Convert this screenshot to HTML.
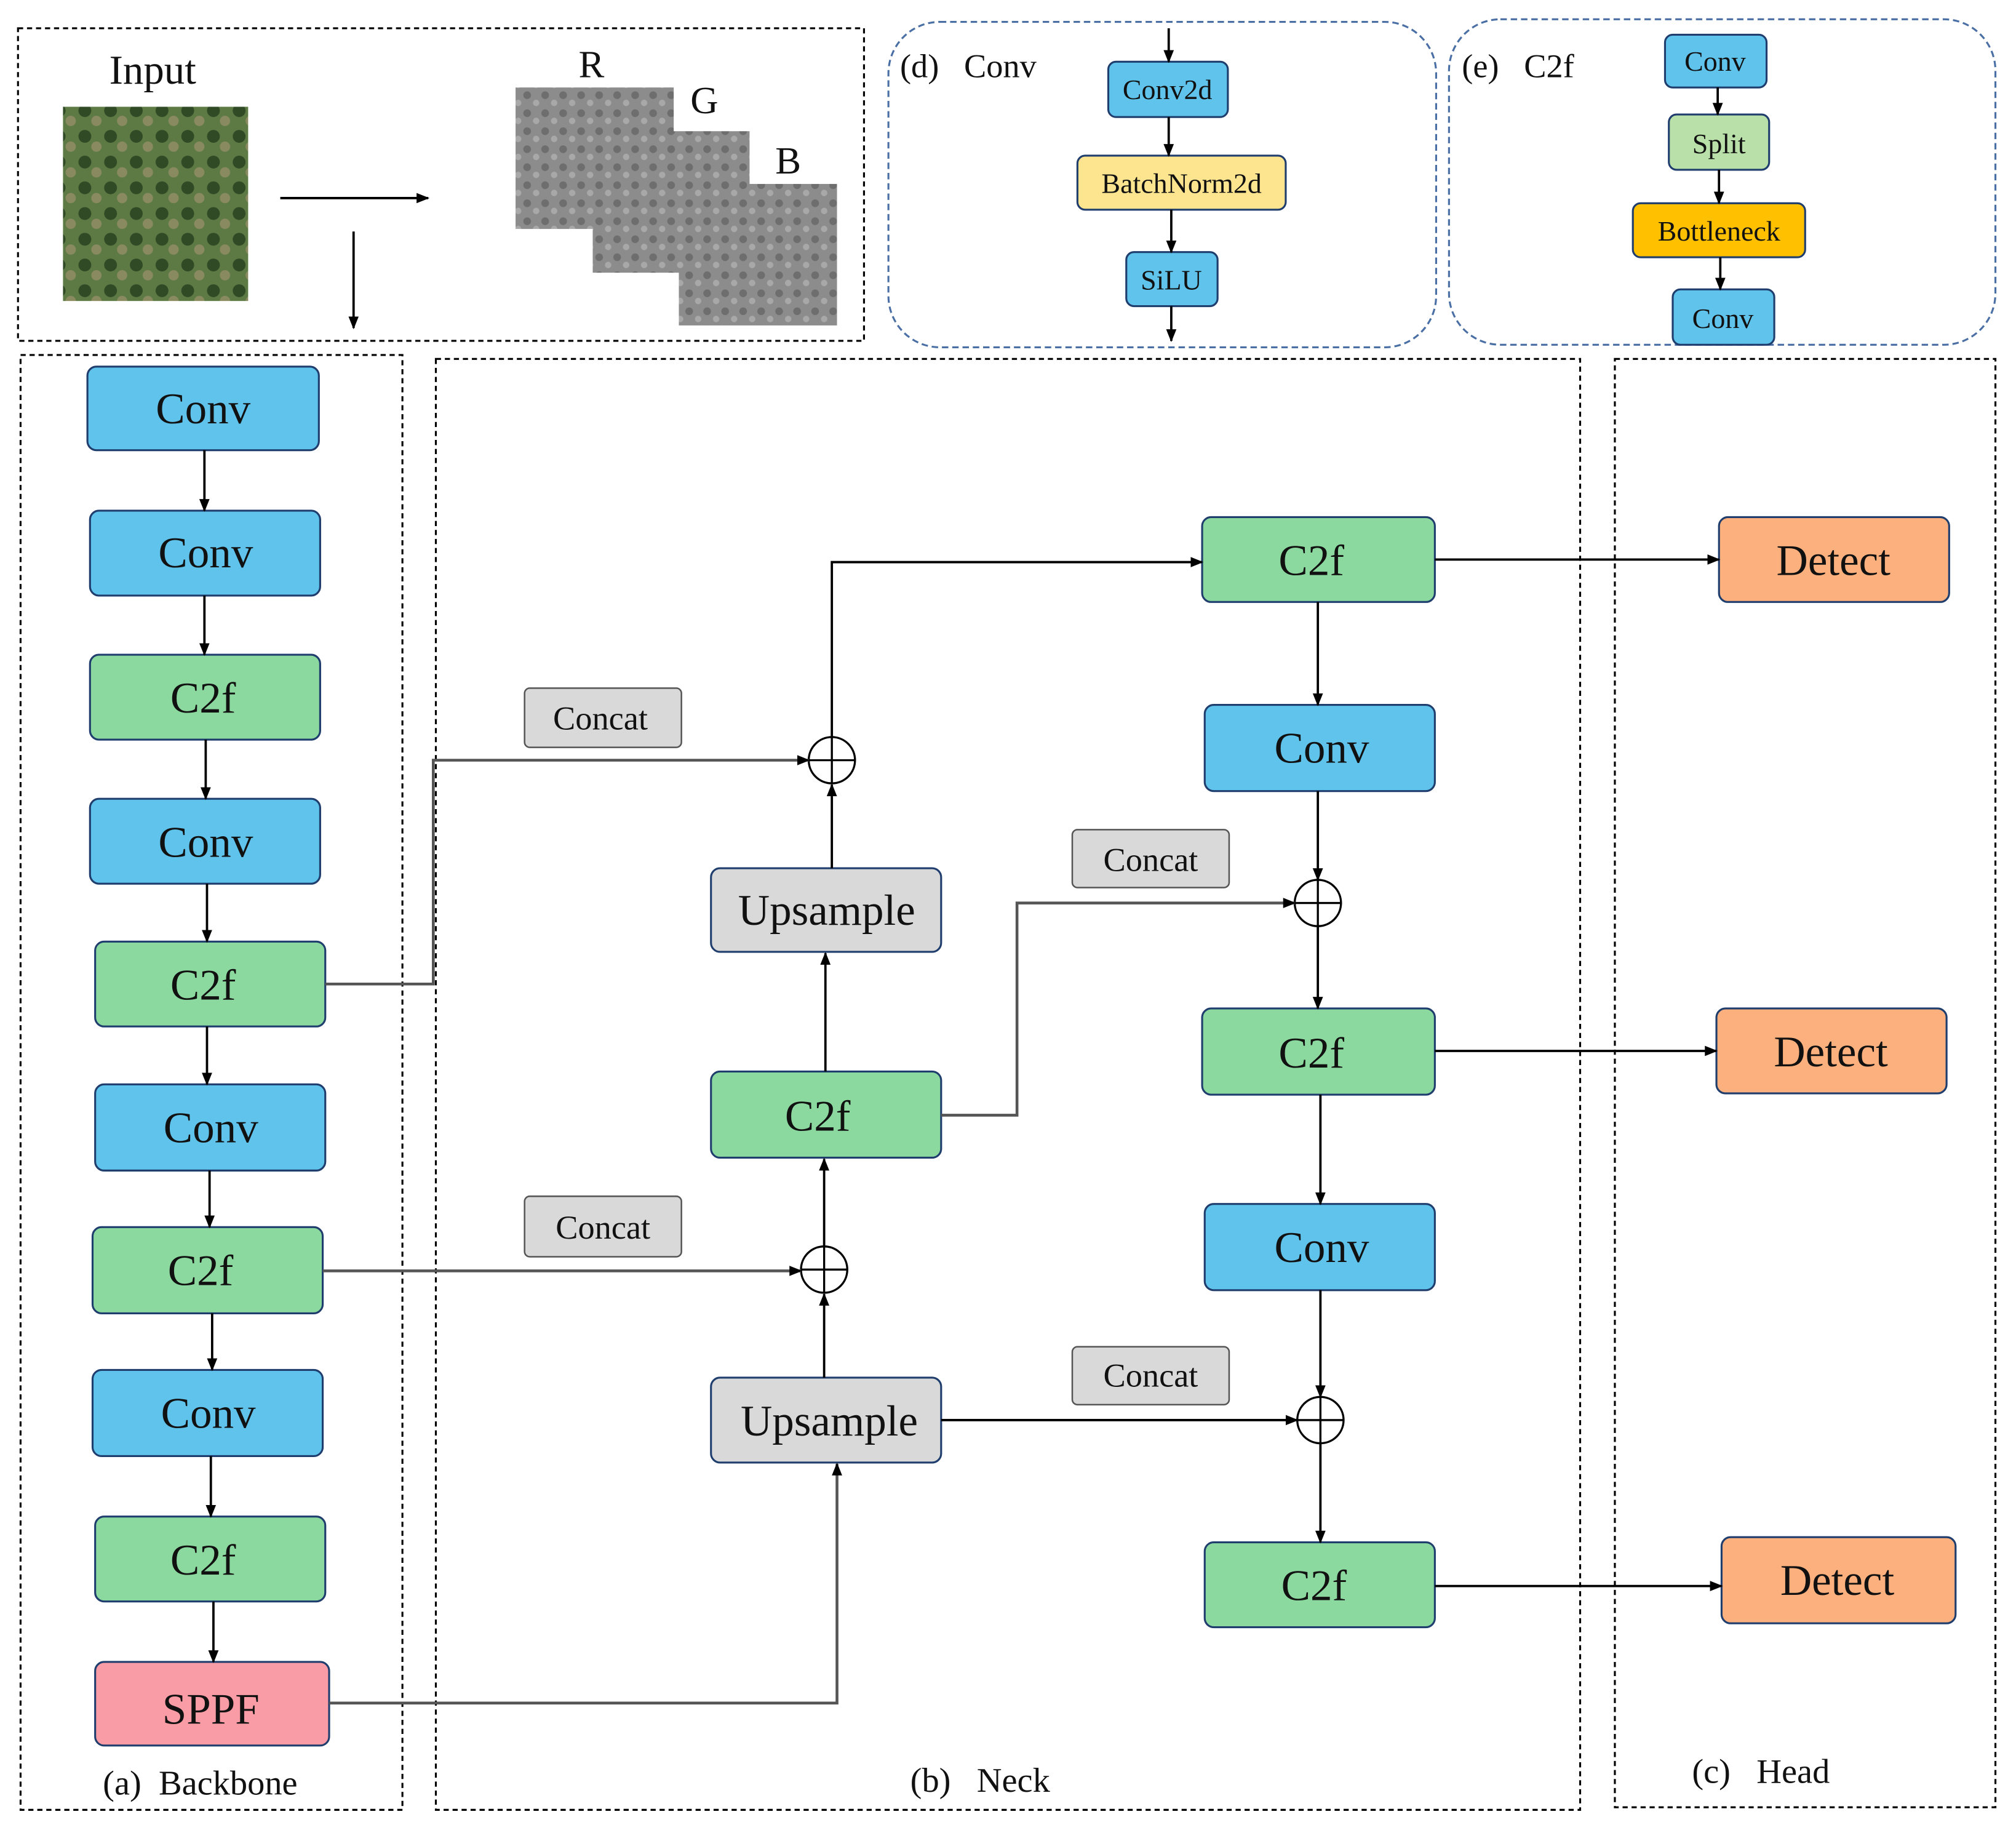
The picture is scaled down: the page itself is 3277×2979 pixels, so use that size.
<!DOCTYPE html>
<html><head><meta charset="utf-8"><style>
html,body{margin:0;padding:0;background:#fff}
svg{display:block}
text{font-family:"Liberation Serif",serif;fill:#111;white-space:pre}
</style></head><body>
<svg width="3277" height="2979" viewBox="0 0 1568 1425" preserveAspectRatio="none" xmlns="http://www.w3.org/2000/svg" xml:space="preserve">
<defs>
<marker id="a" markerWidth="10" markerHeight="10" refX="9" refY="5" orient="auto" markerUnits="userSpaceOnUse"><path d="M0,1 L10,5 L0,9 z" fill="#000"/></marker>
<pattern id="gn" width="14" height="14" patternUnits="userSpaceOnUse"><rect width="14" height="14" fill="#8c8c8c"/><circle cx="4" cy="4" r="3" fill="#6e6e6e"/><circle cx="11" cy="10" r="2.5" fill="#a8a8a8"/></pattern>
<pattern id="gr" width="20" height="20" patternUnits="userSpaceOnUse"><rect width="20" height="20" fill="#5d7a45"/><circle cx="6" cy="6" r="5" fill="#2f4a25"/><circle cx="15" cy="14" r="4" fill="#8a8a60"/></pattern>
</defs>
<g fill="none" stroke="#000" stroke-width="1.5" stroke-dasharray="4,3">
<rect x="14" y="22" width="658" height="243"/>
<rect x="16" y="276" width="297" height="1131"/>
<rect x="339" y="279" width="890" height="1128"/>
<rect x="1256" y="279" width="296" height="1126"/>
</g>
<g fill="none" stroke="#4a6fa5" stroke-width="1.5" stroke-dasharray="5,3">
<rect x="691" y="17" width="426" height="253" rx="40"/>
<rect x="1127" y="15" width="425" height="253" rx="40"/>
</g>
<text x="85" y="65" font-size="32">Input</text>
<rect x="49" y="83" width="144" height="151" fill="url(#gr)"/>
<rect x="401" y="68" width="123" height="110" fill="url(#gn)"/>
<rect x="461" y="102" width="122" height="110" fill="url(#gn)"/>
<rect x="528" y="143" width="123" height="110" fill="url(#gn)"/>
<text x="450" y="60" font-size="30">R</text>
<text x="537" y="88" font-size="30">G</text>
<text x="603" y="135" font-size="30">B</text>
<g stroke="#000" stroke-width="1.8" fill="none" marker-end="url(#a)">
<path d="M218,154 H333"/><path d="M275,180 V255"/>
</g>
<text x="700" y="60" font-size="26">(d)   Conv</text>
<text x="1137" y="60" font-size="26">(e)   C2f</text>
<g stroke="#1f3e6e" stroke-width="1.5">
<rect x="862" y="48" width="93" height="43" rx="6" fill="#5fc3ec"/>
<rect x="838" y="121" width="162" height="42" rx="6" fill="#fde58f"/>
<rect x="876" y="196" width="71" height="42" rx="6" fill="#5fc3ec"/>
<rect x="1295" y="27" width="79" height="41" rx="6" fill="#5fc3ec"/>
<rect x="1298" y="89" width="78" height="43" rx="6" fill="#b8e0a8"/>
<rect x="1270" y="158" width="134" height="42" rx="6" fill="#ffc000"/>
<rect x="1301" y="225" width="79" height="43" rx="6" fill="#5fc3ec"/>
</g>
<g font-size="22" text-anchor="middle">
<text x="908" y="77">Conv2d</text><text x="919" y="150">BatchNorm2d</text><text x="911" y="225">SiLU</text>
<text x="1334" y="55">Conv</text><text x="1337" y="119">Split</text><text x="1337" y="187">Bottleneck</text><text x="1340" y="255">Conv</text>
</g>
<g stroke="#000" stroke-width="1.8" fill="none" marker-end="url(#a)">
<path d="M909,22 V48"/><path d="M909,91 V121"/><path d="M911,163 V196"/><path d="M911,238 V265"/>
<path d="M1336,68 V89"/><path d="M1337,132 V158"/><path d="M1338,200 V225"/>
</g>
<g stroke="#1f3e6e" stroke-width="1.5">
<rect x="68" y="285" width="180" height="65" rx="7" fill="#5fc3ec"/>
<rect x="70" y="397" width="179" height="66" rx="7" fill="#5fc3ec"/>
<rect x="70" y="509" width="179" height="66" rx="7" fill="#8cd9a0"/>
<rect x="70" y="621" width="179" height="66" rx="7" fill="#5fc3ec"/>
<rect x="74" y="732" width="179" height="66" rx="7" fill="#8cd9a0"/>
<rect x="74" y="843" width="179" height="67" rx="7" fill="#5fc3ec"/>
<rect x="72" y="954" width="179" height="67" rx="7" fill="#8cd9a0"/>
<rect x="72" y="1065" width="179" height="67" rx="7" fill="#5fc3ec"/>
<rect x="74" y="1179" width="179" height="66" rx="7" fill="#8cd9a0"/>
<rect x="74" y="1292" width="182" height="65" rx="7" fill="#f99ca6"/>
<rect x="553" y="675" width="179" height="65" rx="7" fill="#d9d9d9"/>
<rect x="553" y="833" width="179" height="67" rx="7" fill="#8cd9a0"/>
<rect x="553" y="1071" width="179" height="66" rx="7" fill="#d9d9d9"/>
<rect x="935" y="402" width="181" height="66" rx="7" fill="#8cd9a0"/>
<rect x="937" y="548" width="179" height="67" rx="7" fill="#5fc3ec"/>
<rect x="935" y="784" width="181" height="67" rx="7" fill="#8cd9a0"/>
<rect x="937" y="936" width="179" height="67" rx="7" fill="#5fc3ec"/>
<rect x="937" y="1199" width="179" height="66" rx="7" fill="#8cd9a0"/>
<rect x="1337" y="402" width="179" height="66" rx="7" fill="#fbb07e"/>
<rect x="1335" y="784" width="179" height="66" rx="7" fill="#fbb07e"/>
<rect x="1339" y="1195" width="182" height="67" rx="7" fill="#fbb07e"/>
</g>
<g stroke="#555" stroke-width="1.2" fill="#d9d9d9">
<rect x="408" y="535" width="122" height="46" rx="4"/>
<rect x="408" y="930" width="122" height="47" rx="4"/>
<rect x="834" y="645" width="122" height="45" rx="4"/>
<rect x="834" y="1047" width="122" height="45" rx="4"/>
</g>
<g font-size="34" text-anchor="middle">
<text x="158" y="329">Conv</text><text x="160" y="441">Conv</text><text x="158" y="554">C2f</text><text x="160" y="666">Conv</text>
<text x="158" y="777">C2f</text><text x="164" y="888">Conv</text><text x="156" y="999">C2f</text><text x="162" y="1110">Conv</text>
<text x="158" y="1224">C2f</text><text x="164" y="1340">SPPF</text>
<text x="643" y="719">Upsample</text><text x="636" y="879">C2f</text><text x="645" y="1116">Upsample</text>
<text x="1020" y="447">C2f</text><text x="1028" y="593">Conv</text><text x="1020" y="830">C2f</text><text x="1028" y="981">Conv</text><text x="1022" y="1244">C2f</text>
<text x="1426" y="447">Detect</text><text x="1424" y="829">Detect</text><text x="1429" y="1240">Detect</text>
</g>
<g font-size="26" text-anchor="middle">
<text x="467" y="567">Concat</text><text x="469" y="963">Concat</text><text x="895" y="677">Concat</text><text x="895" y="1078">Concat</text>
</g>
<g font-size="27">
<text x="80" y="1395">(a)  Backbone</text><text x="708" y="1393">(b)   Neck</text><text x="1316" y="1386">(c)   Head</text>
</g>
<g stroke="#000" stroke-width="1.6" fill="#fff">
<circle cx="647" cy="591" r="18"/><circle cx="641" cy="987" r="18"/><circle cx="1025" cy="702" r="18"/><circle cx="1027" cy="1104" r="18"/>
</g>
<g stroke="#000" stroke-width="1.6">
<path d="M629,591 H665 M647,573 V609"/><path d="M623,987 H659 M641,969 V1005"/>
<path d="M1007,702 H1043 M1025,684 V720"/><path d="M1009,1104 H1045 M1027,1086 V1122"/>
</g>
<g stroke="#000" stroke-width="1.8" fill="none" marker-end="url(#a)">
<path d="M159,350 V397"/><path d="M159,463 V509"/><path d="M160,575 V621"/><path d="M161,687 V732"/>
<path d="M161,798 V843"/><path d="M163,910 V954"/><path d="M165,1021 V1065"/><path d="M164,1132 V1179"/><path d="M166,1245 V1292"/>
<path d="M647,675 V610"/><path d="M647,573 V437 H935"/>
<path d="M642,833 V741"/><path d="M641,969 V901"/><path d="M641,1071 V1006"/>
<path d="M732,1104 H1009"/>
<path d="M1025,468 V548"/><path d="M1025,615 V684"/><path d="M1025,720 V784"/>
<path d="M1027,851 V936"/><path d="M1027,1003 V1086"/><path d="M1027,1122 V1199"/>
<path d="M1116,435 H1337"/><path d="M1116,817 H1335"/><path d="M1116,1233 H1339"/>
</g>
<g stroke="#555" stroke-width="2.2" fill="none" marker-end="url(#a)">
<path d="M253,765 H337 V591 H629"/>
<path d="M732,867 H791 V702 H1007"/>
<path d="M251,988 H623"/>
<path d="M256,1324 H651 V1138"/>
</g>
</svg>
</body></html>
